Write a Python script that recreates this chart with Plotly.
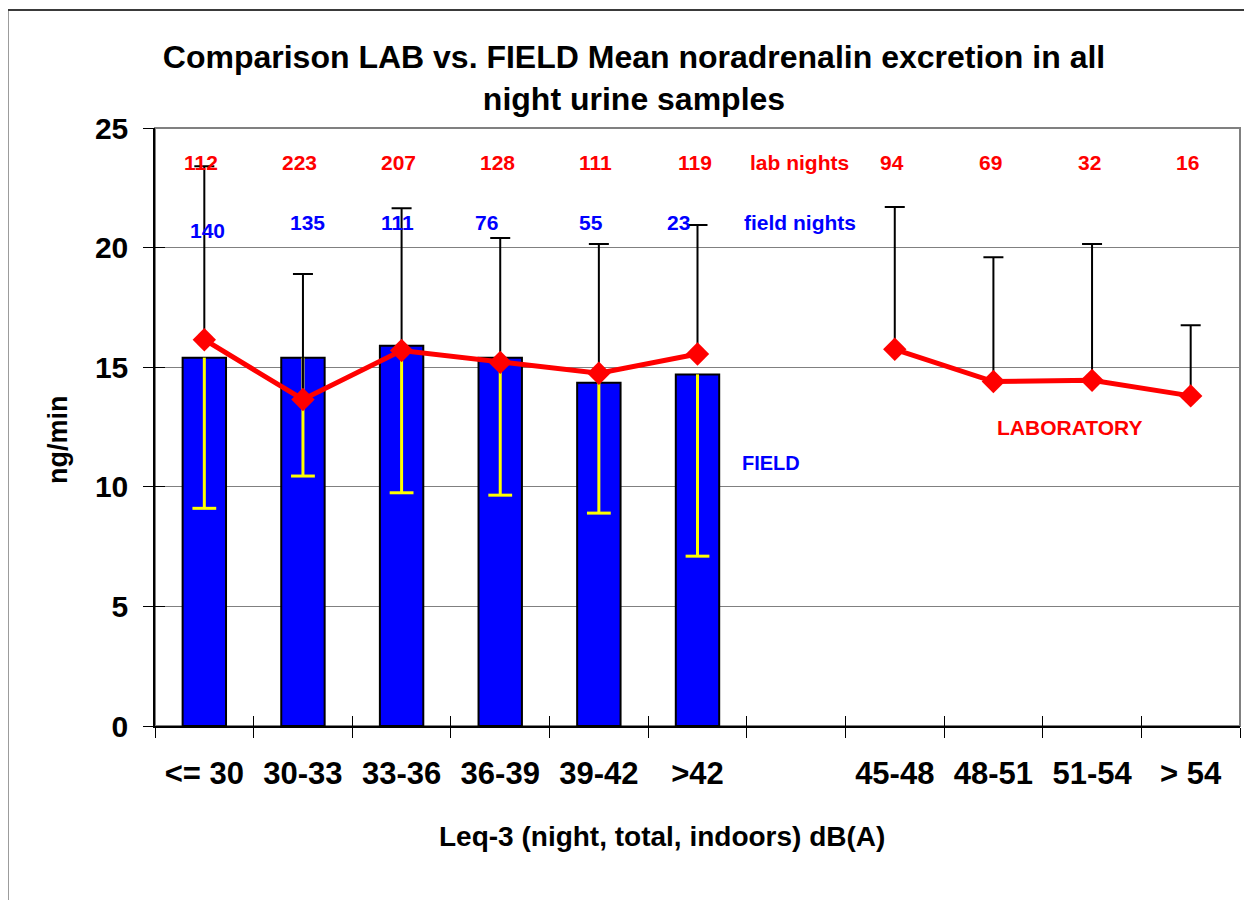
import plotly.graph_objects as go

# ---------------- data ----------------
categories = ["<= 30", "30-33", "33-36", "36-39", "39-42", ">42", "",
              "45-48", "48-51", "51-54", "> 54"]
field_mean = [15.4, 15.4, 15.9, 15.4, 14.35, 14.7]
field_sd = [6.3, 4.95, 6.15, 5.75, 5.45, 7.6]
lab_mean = [16.15, 13.65, 15.7, 15.2, 14.75, 15.55, None, 15.75, 14.4, 14.45, 13.8]
lab_sd = [7.25, 5.25, 5.95, 5.2, 5.4, 5.4, None, 5.95, 5.2, 5.7, 2.95]
lab_nights = [112, 223, 207, 128, 111, 119, None, 94, 69, 32, 16]
field_nights = [140, 135, 111, 76, 55, 23]
y_ticks = [0, 5, 10, 15, 20, 25]

# ---------------- styling ----------------
FONT = "Liberation Sans, Arial, Helvetica, sans-serif"
RED = "#FF0000"
BLUE = "#0000FF"
YELLOW = "#FFFF00"
OFF = 8  # page body margin offset
ML, MT, PW, PH = 155 - OFF, 128 - OFF, 1085, 598
W, H = 1252, 900
n_cat = len(categories)
x_all = list(range(n_cat))
x_field = list(range(len(field_mean)))
boundaries = [i - 0.5 for i in range(n_cat + 1)]
field_label_shift = [3, 5, -4, -14, -8, -19]
field_label_yshift = [-8, 0, 0, 0, 0, 0]


def px_x(px):  # reference pixel -> paper x
    return (px - 155) / PW


def px_y(py):  # reference pixel -> paper y
    return (726 - py) / PH


fig = go.Figure()

fig.add_trace(go.Bar(
    x=x_field, y=field_mean, width=0.44,
    marker=dict(color=BLUE, line=dict(color="black", width=2)),
    error_y=dict(type="data", symmetric=False,
                 array=[0] * len(field_sd), arrayminus=field_sd,
                 color=YELLOW, thickness=3, width=0),
    showlegend=False, hoverinfo="skip"))

# bottom caps of the field (yellow) error bars
fig.add_trace(go.Scatter(
    x=x_field, y=[m - s for m, s in zip(field_mean, field_sd)], mode="markers",
    marker=dict(symbol="line-ew", size=17, line=dict(color=YELLOW, width=3)),
    showlegend=False, hoverinfo="skip"))

fig.add_trace(go.Scatter(
    x=x_all, y=lab_mean, mode="lines+markers",
    line=dict(color=RED, width=5),
    marker=dict(symbol="diamond", size=18, color=RED),
    error_y=dict(type="data", symmetric=False,
                 array=lab_sd, arrayminus=[0 if v is not None else None for v in lab_sd],
                 color="black", thickness=2, width=10),
    connectgaps=False, showlegend=False, hoverinfo="skip"))

# invisible trace to anchor overlay axes (inside ticks -> crossing ticks)
fig.add_trace(go.Scatter(x=[None], y=[None], xaxis="x2", yaxis="y2",
                         showlegend=False, hoverinfo="skip"))

C = dict(xanchor="center", yanchor="middle", showarrow=False)
ann = []
for i, n in enumerate(lab_nights):
    if n is None:
        continue
    ann.append(dict(x=i, y=23.56, xref="x", yref="y", text=f"<b>{n}</b>",
                    xshift=-3, font=dict(family=FONT, size=21, color=RED), **C))
for i, n in enumerate(field_nights):
    ann.append(dict(x=i, y=21.07, xref="x", yref="y", text=f"<b>{n}</b>",
                    xshift=field_label_shift[i], yshift=field_label_yshift[i],
                    font=dict(family=FONT, size=21, color=BLUE), **C))
ann += [
    dict(x=6, y=23.56, xref="x", yref="y", text="<b>lab nights</b>",
         xshift=3, font=dict(family=FONT, size=21, color=RED), **C),
    dict(x=6, y=21.07, xref="x", yref="y", text="<b>field nights</b>",
         xshift=4, font=dict(family=FONT, size=21, color=BLUE), **C),
    dict(x=5.745, y=11.0, xref="x", yref="y", text="<b>FIELD</b>",
         font=dict(family=FONT, size=20, color=BLUE), **C),
    dict(x=8.776, y=12.48, xref="x", yref="y", text="<b>LABORATORY</b>",
         font=dict(family=FONT, size=21, color=RED), **C),
    dict(x=px_x(661.7), y=px_y(836), xref="paper", yref="paper",
         text="<b>Leq-3 (night, total, indoors) dB(A)</b>",
         font=dict(family=FONT, size=28, color="black"), **C),
    dict(x=px_x(58), y=px_y(440), xref="paper", yref="paper",
         text="<b>ng/min</b>", textangle=-90,
         font=dict(family=FONT, size=27, color="black"), **C),
]

shapes = [
    # outer chart frame
    dict(type="rect", xref="paper", yref="paper",
         x0=px_x(7.5), x1=1.2, y0=-0.5, y1=px_y(10),
         line=dict(color="#3a3a3a", width=2), layer="below"),
    # plot area border
    dict(type="rect", xref="paper", yref="paper", x0=0, x1=1, y0=0, y1=1,
         line=dict(color="#808080", width=2), layer="below"),
]

fig.update_layout(
    width=W, height=H,
    margin=dict(l=ML, r=W - ML - PW, t=MT, b=H - MT - PH),
    paper_bgcolor="white", plot_bgcolor="white",
    title=dict(text="<b>Comparison LAB vs. FIELD Mean noradrenalin excretion in all<br>night urine samples</b>",
               x=(634 - OFF) / W, xanchor="center", y=1 - (68 - OFF) / H, yanchor="middle",
               yref="container", xref="container",
               font=dict(family=FONT, size=32, color="black")),
    xaxis=dict(range=[-0.5, n_cat - 0.5], tickmode="array", tickvals=x_all,
               ticktext=[f"<b>{c}</b>" for c in categories], ticks="",
               tickfont=dict(family=FONT, size=31, color="black"),
               ticklabelstandoff=19,
               minor=dict(tickmode="array", tickvals=boundaries, ticks="outside",
                          ticklen=10, tickcolor="black", tickwidth=1, showgrid=False),
               showgrid=False, zeroline=False, showline=True,
               linecolor="black", linewidth=1.5),
    xaxis2=dict(range=[-0.5, n_cat - 0.5], overlaying="x", anchor="y",
                tickmode="array", tickvals=boundaries, ticks="inside", ticklen=10,
                tickcolor="black", tickwidth=1, showticklabels=False,
                showgrid=False, zeroline=False, showline=False),
    yaxis=dict(range=[0, 25], tickmode="array", tickvals=y_ticks,
               ticktext=[f"<b>{v}</b>" for v in y_ticks],
               ticks="outside", ticklen=10, tickcolor="black", tickwidth=1,
               tickfont=dict(family=FONT, size=30, color="black"),
               ticklabelstandoff=9,
               showgrid=True, gridcolor="#808080", gridwidth=1,
               zeroline=False, showline=True, linecolor="black", linewidth=1.5),
    yaxis2=dict(range=[0, 25], overlaying="y", anchor="x", side="left",
                tickmode="array", tickvals=y_ticks, ticks="inside", ticklen=10,
                tickcolor="black", tickwidth=1, showticklabels=False,
                showgrid=False, zeroline=False, showline=False),
    annotations=ann, shapes=shapes, showlegend=False,
)

fig.write_html("out.html")
